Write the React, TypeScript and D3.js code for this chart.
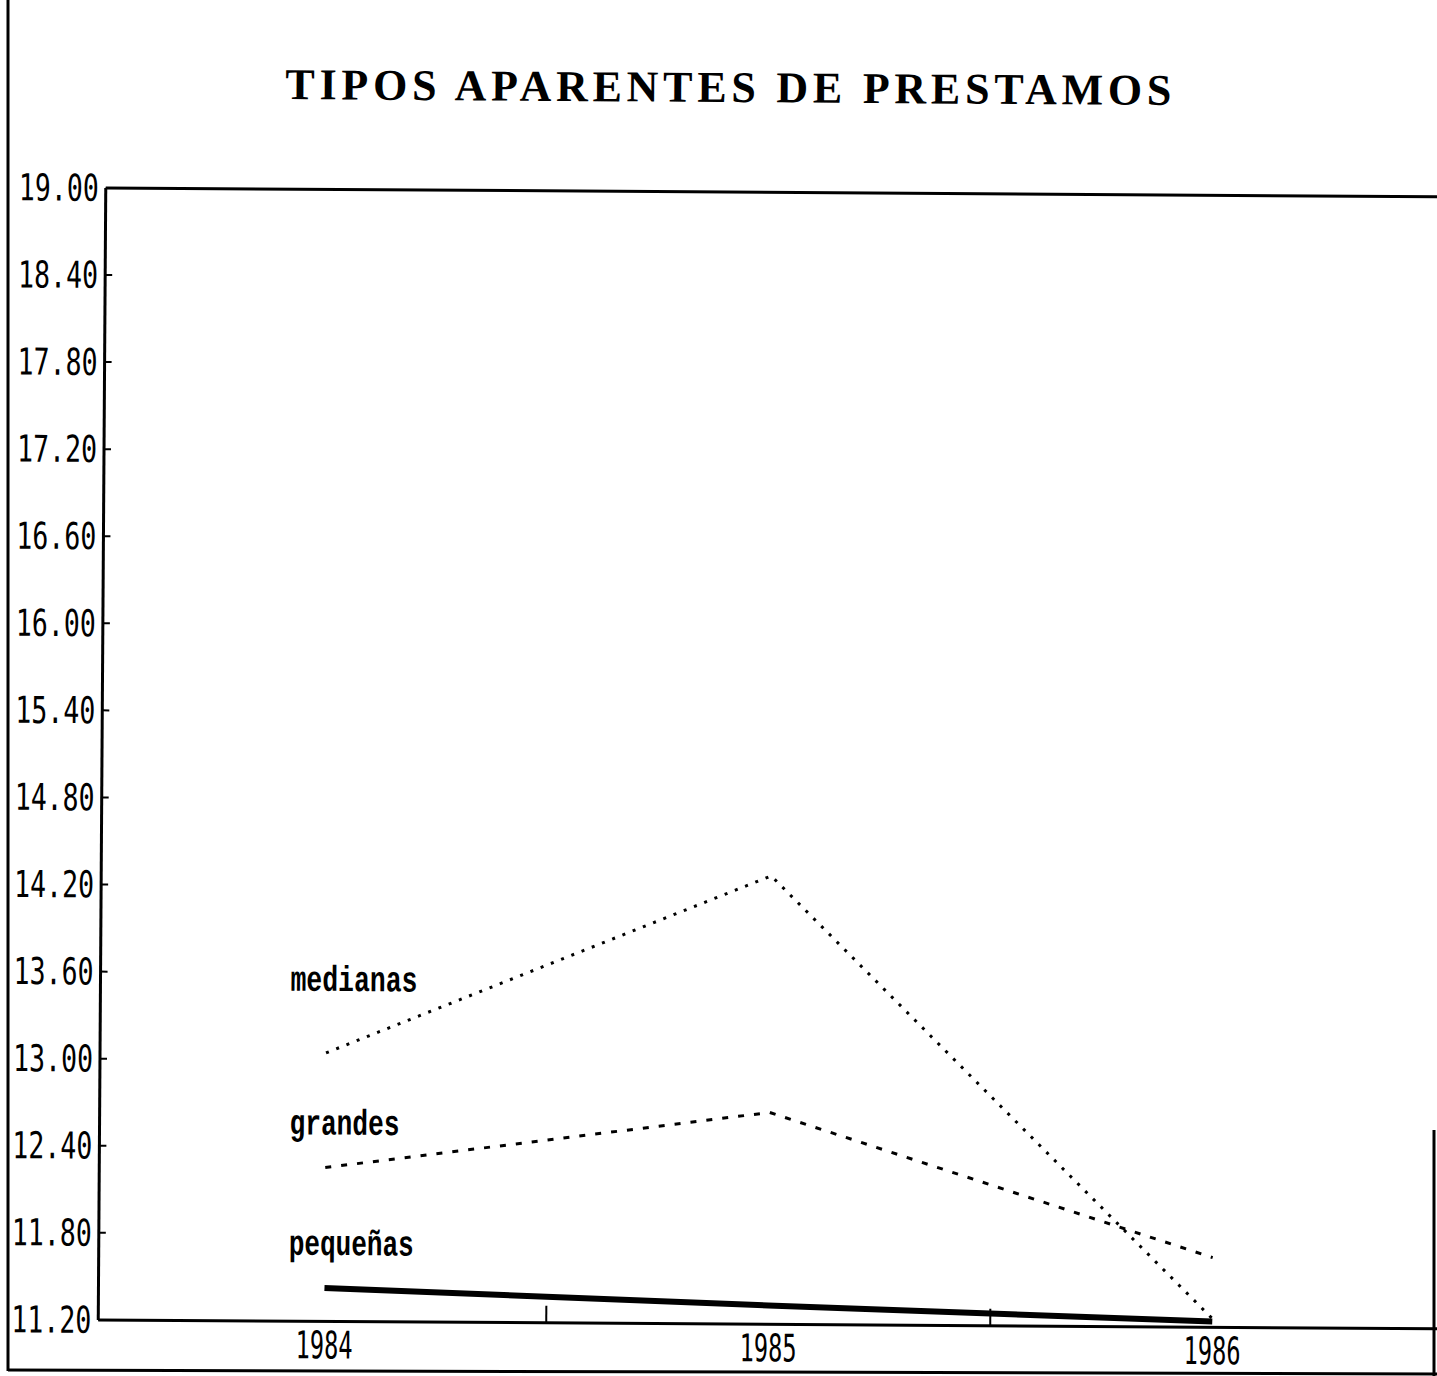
import { line, scaleLinear } from "d3";

// chart data
const years = [1984, 1985, 1986];
const medianas = [13.05, 14.29, 11.26];
const grandes = [12.26, 12.66, 11.68];
const pequenas = [11.43, 11.33, 11.24];
const seriesNames = ["medianas", "grandes", "pequeñas"];

const yTickLabels = [
  "19.00", "18.40", "17.80", "17.20", "16.60", "16.00", "15.40",
  "14.80", "14.20", "13.60", "13.00", "12.40", "11.80", "11.20",
];
const xTickLabels = ["1984", "1985", "1986"];
const midTicks = [1984.5, 1985.5];

const title = "TIPOS APARENTES DE PRESTAMOS";

const W = 1437;
const H = 1376;

// plot box before the small scanner tilt is applied
const plot = { left: 102, top: 192, right: 1437, bottom: 1324 };

const monoFont = "'DejaVu Sans Mono', monospace";

export default function App() {
  const xScale = scaleLinear()
    .domain([1983.5, 1986.5])
    .range([106, 1438]);

  const yScale = scaleLinear()
    .domain([11.2, 19])
    .range([plot.bottom, plot.top]);

  const path = line<number>()
    .x((_, i) => xScale(years[i]))
    .y((d) => yScale(d));

  const series = [
    { name: seriesNames[0], values: medianas, width: 3, dash: "3 8", labelDy: -62 },
    { name: seriesNames[1], values: grandes, width: 3, dash: "6 10", labelDy: -33 },
    { name: seriesNames[2], values: pequenas, width: 6, dash: undefined, labelDy: -33 },
  ];

  const labelWidths = [127, 110, 125];

  return (
    <svg
      width={W}
      height={H}
      viewBox={`0 0 ${W} ${H}`}
      style={{ position: "absolute", left: 0, top: 0, display: "block", background: "#fff" }}
    >
      <rect x={0} y={0} width={W} height={H} fill="#fff" />

      {/* outer frame pieces of the scan */}
      <line x1={8} y1={0} x2={8} y2={1371} stroke="#000" strokeWidth={3} />
      <line x1={8} y1={1370} x2={W} y2={1374} stroke="#000" strokeWidth={3} />
      <line x1={1434} y1={1130} x2={1434} y2={H} stroke="#000" strokeWidth={3} />

      <g transform="rotate(0.38 720 756)">
        {/* Title */}
        <text
          x={281}
          y={102}
          textLength={886}
          lengthAdjust="spacing"
          fontFamily="'Liberation Serif', 'DejaVu Serif', serif"
          fontWeight="bold"
          fontSize={44}
          fill="#000"
        >
          {title}
        </text>

        {/* Axes */}
        <line x1={plot.left} y1={plot.top} x2={plot.right + 10} y2={plot.top} stroke="#000" strokeWidth={3} />
        <line x1={plot.left} y1={plot.top} x2={plot.left} y2={plot.bottom} stroke="#000" strokeWidth={3} />
        <line x1={plot.left} y1={plot.bottom} x2={plot.right + 10} y2={plot.bottom} stroke="#000" strokeWidth={3} />

        {/* Y ticks + labels */}
        {yTickLabels.map((label) => {
          const y = yScale(parseFloat(label));
          return (
            <g key={`y-${label}`}>
              <line x1={plot.left} y1={y} x2={plot.left + 7} y2={y} stroke="#000" strokeWidth={2} />
              <text
                x={95}
                y={y + 13}
                textAnchor="end"
                textLength={80}
                lengthAdjust="spacingAndGlyphs"
                fontFamily={monoFont}
                fontSize={37}
                fill="#000"
              >
                {label}
              </text>
            </g>
          );
        })}

        {/* X mid ticks */}
        {midTicks.map((v) => (
          <line
            key={`xt-${v}`}
            x1={xScale(v)}
            y1={plot.bottom}
            x2={xScale(v)}
            y2={plot.bottom - 17}
            stroke="#000"
            strokeWidth={2}
          />
        ))}

        {/* X labels */}
        {xTickLabels.map((label) => (
          <text
            key={`x-${label}`}
            x={xScale(+label)}
            y={plot.bottom + 37}
            textAnchor="middle"
            textLength={57}
            lengthAdjust="spacingAndGlyphs"
            fontFamily={monoFont}
            fontSize={38}
            fill="#000"
          >
            {label}
          </text>
        ))}

        {/* Series lines */}
        {series.map((s) => (
          <path
            key={`line-${s.name}`}
            d={path(s.values) ?? ""}
            fill="none"
            stroke="#000"
            strokeWidth={s.width}
            strokeDasharray={s.dash}
          />
        ))}

        {/* Series labels */}
        {series.map((s, i) => (
          <text
            key={`label-${s.name}`}
            x={xScale(years[0]) - 36}
            y={yScale(s.values[0]) + s.labelDy}
            textLength={labelWidths[i]}
            lengthAdjust="spacingAndGlyphs"
            fontFamily="'Liberation Mono', monospace"
            fontWeight="bold"
            fontSize={36}
            fill="#000"
          >
            {s.name}
          </text>
        ))}
      </g>
    </svg>
  );
}
